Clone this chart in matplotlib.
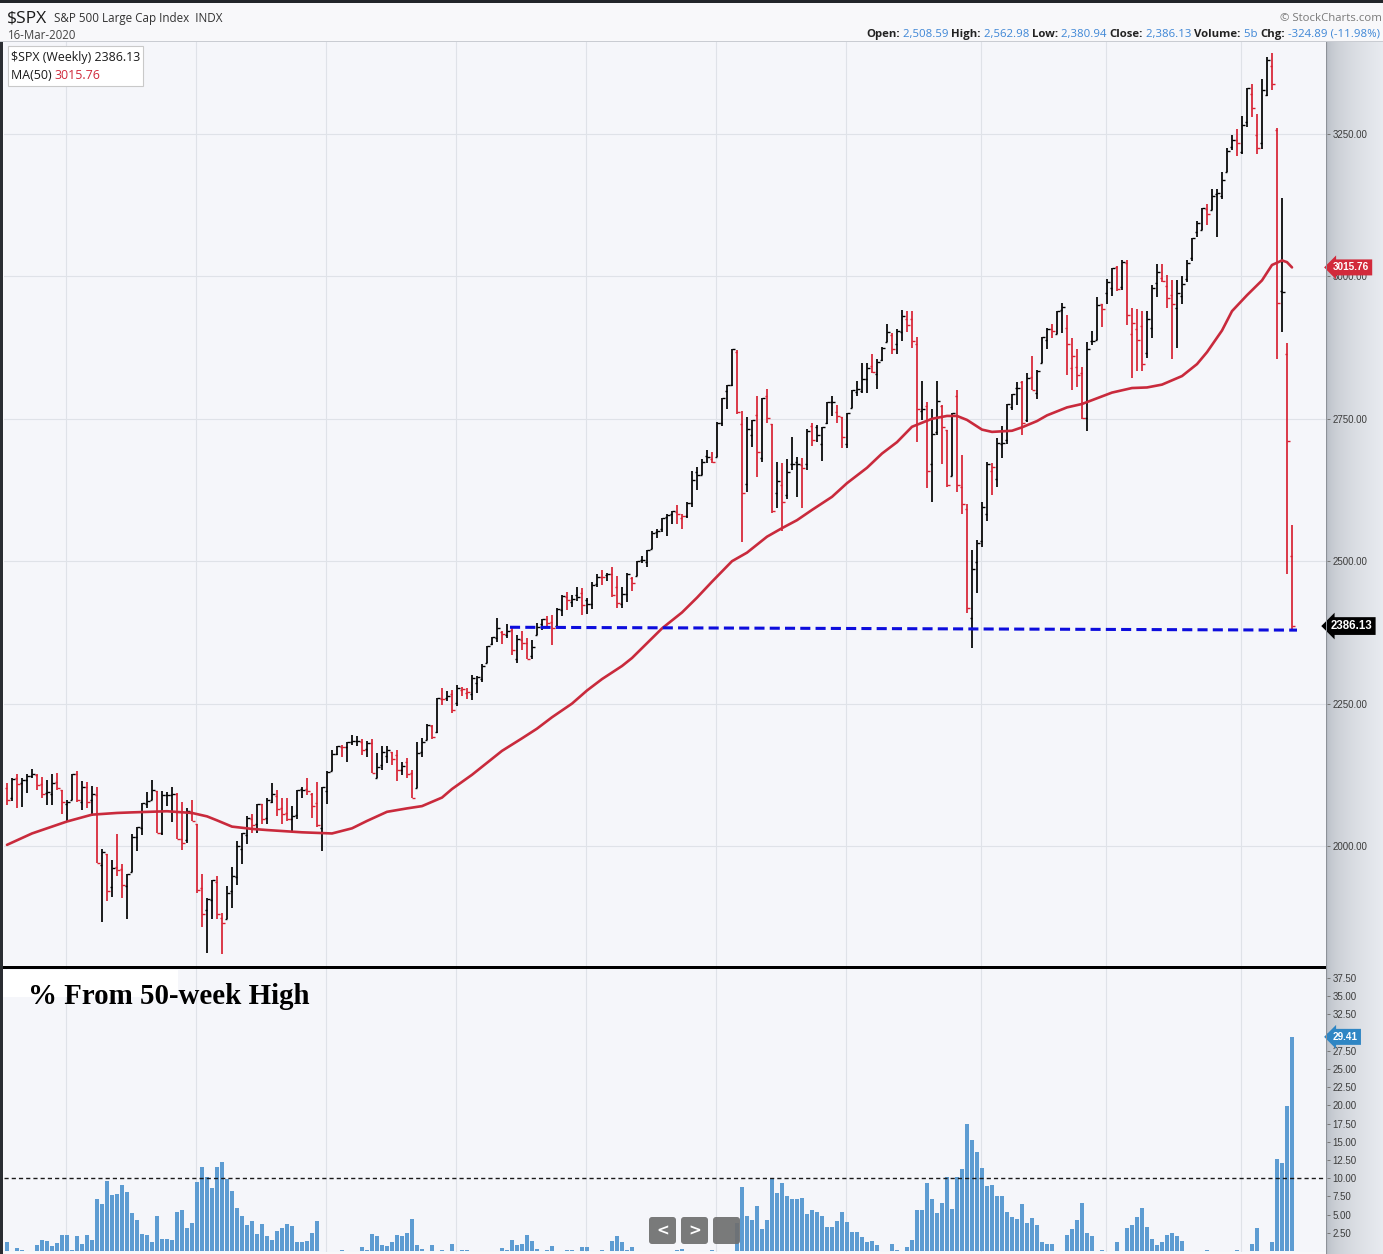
import numpy as np
import matplotlib
matplotlib.use('Agg')
import matplotlib.pyplot as plt
import matplotlib.transforms as mtransforms
from matplotlib.patches import Rectangle, FancyBboxPatch

# weekly $SPX bars, week of 13-Apr-2015 .. week of 16-Mar-2020 (258 weeks)
opens = [2102, 2084, 2120, 2110, 2115, 2122, 2125, 2108, 2093, 2092,
         2112, 2098, 2073, 2080, 2127, 2078, 2104, 2080, 2090, 1966,
         1986, 1928, 1963, 1960, 1929, 1954, 2015, 2031, 2073, 2080,
         2097, 2023, 2089, 2090, 2091, 2013, 2010, 2058, 2038, 1926,
         1888, 1906, 1936, 1873, 1872, 1921, 1946, 1995, 2019, 2048,
         2038, 2073, 2050, 2078, 2088, 2067, 2058, 2047, 2054, 2100,
         2100, 2092, 2075, 2031, 2096, 2131, 2162, 2173, 2173, 2183,
         2184, 2183, 2170, 2181, 2120, 2143, 2158, 2165, 2160, 2133,
         2148, 2129, 2101, 2165, 2186, 2210, 2200, 2258, 2260, 2267,
         2251, 2273, 2269, 2267, 2286, 2294, 2321, 2354, 2365, 2375,
         2371, 2379, 2329, 2362, 2357, 2333, 2370, 2389, 2399, 2393,
         2387, 2414, 2437, 2428, 2441, 2444, 2431, 2424, 2460, 2473,
         2476, 2477, 2454, 2425, 2442, 2470, 2474, 2502, 2499, 2521,
         2551, 2557, 2578, 2583, 2587, 2576, 2580, 2603, 2657, 2652,
         2685, 2680, 2683, 2743, 2799, 2810, 2867, 2741, 2636, 2722,
         2757, 2681, 2790, 2741, 2619, 2633, 2617, 2671, 2675, 2668,
         2670, 2738, 2735, 2705, 2742, 2780, 2762, 2754, 2705, 2769,
         2797, 2799, 2819, 2842, 2828, 2853, 2884, 2897, 2881, 2903,
         2925, 2926, 2882, 2763, 2773, 2670, 2726, 2773, 2731, 2650,
         2790, 2630, 2591, 2401, 2498, 2535, 2582, 2658, 2644, 2706,
         2712, 2770, 2804, 2814, 2747, 2823, 2796, 2848, 2889, 2908,
         2899, 2941, 2909, 2840, 2841, 2830, 2751, 2886, 2889, 2951,
         2971, 2980, 3017, 2981, 3024, 2898, 2907, 2913, 2866, 2909,
         2989, 2997, 2984, 2967, 2945, 2966, 2996, 3032, 3078, 3081,
         3118, 3117, 3144, 3141, 3183, 3227, 3240, 3218, 3271, 3321,
         3248, 3235, 3318, 3370, 3257, 2975, 2863, 2508.59]
highs = [2111, 2120, 2126, 2120, 2126, 2135, 2126, 2121, 2115, 2127,
         2129, 2099, 2081, 2127, 2132, 2114, 2112, 2105, 2103, 1994,
         1986, 1976, 2021, 1968, 1951, 2021, 2034, 2076, 2094, 2116,
         2097, 2097, 2095, 2104, 2093, 2077, 2067, 2081, 2038, 1950,
         1908, 1940, 1947, 1882, 1930, 1963, 2009, 2022, 2052, 2056,
         2073, 2073, 2084, 2111, 2099, 2084, 2084, 2071, 2099, 2104,
         2120, 2093, 2113, 2103, 2131, 2169, 2175, 2177, 2183, 2194,
         2193, 2187, 2184, 2187, 2163, 2175, 2175, 2165, 2169, 2148,
         2155, 2133, 2182, 2189, 2214, 2213, 2260, 2278, 2272, 2274,
         2282, 2279, 2277, 2301, 2299, 2319, 2351, 2367, 2401, 2378,
         2390, 2382, 2370, 2378, 2366, 2362, 2392, 2399, 2403, 2406,
         2418, 2440, 2446, 2441, 2454, 2453, 2435, 2463, 2478, 2484,
         2480, 2490, 2474, 2454, 2480, 2472, 2500, 2509, 2519, 2553,
         2557, 2575, 2582, 2588, 2598, 2583, 2604, 2658, 2665, 2679,
         2695, 2692, 2744, 2787, 2810, 2873, 2870, 2763, 2754, 2747,
         2790, 2786, 2802, 2741, 2675, 2672, 2680, 2718, 2683, 2682,
         2732, 2742, 2739, 2736, 2779, 2790, 2774, 2754, 2760, 2801,
         2816, 2848, 2848, 2863, 2855, 2876, 2916, 2900, 2908, 2941,
         2940, 2940, 2894, 2817, 2779, 2767, 2816, 2775, 2731, 2760,
         2800, 2686, 2601, 2520, 2538, 2604, 2675, 2672, 2717, 2738,
         2776, 2793, 2814, 2816, 2831, 2861, 2836, 2893, 2910, 2917,
         2940, 2954, 2932, 2892, 2872, 2841, 2884, 2905, 2964, 2951,
         2996, 3014, 3018, 3028, 3028, 2945, 2943, 2939, 2940, 2985,
         3021, 3022, 3002, 2993, 2993, 3000, 3028, 3067, 3098, 3120,
         3127, 3154, 3154, 3183, 3226, 3248, 3259, 3282, 3330, 3338,
         3285, 3347, 3385, 3393, 3260, 3137, 2883, 2562.98]
lows = [2072, 2079, 2067, 2068, 2093, 2119, 2099, 2085, 2072, 2072,
        2098, 2056, 2044, 2080, 2077, 2063, 2067, 2052, 1970, 1867,
        1903, 1910, 1947, 1908, 1872, 1954, 1991, 2019, 2066, 2080,
        2022, 2019, 2070, 2042, 2012, 1993, 2005, 2043, 1918, 1857,
        1812, 1872, 1872, 1810, 1872, 1891, 1931, 1969, 2004, 2023,
        2023, 2039, 2039, 2075, 2052, 2039, 2044, 2025, 2048, 2085,
        2089, 2050, 2033, 1992, 2074, 2131, 2159, 2156, 2148, 2177,
        2175, 2160, 2157, 2128, 2119, 2133, 2145, 2143, 2114, 2124,
        2119, 2084, 2101, 2156, 2186, 2187, 2198, 2248, 2254, 2234,
        2245, 2263, 2258, 2257, 2268, 2288, 2321, 2352, 2358, 2354,
        2365, 2336, 2322, 2344, 2328, 2328, 2370, 2380, 2387, 2353,
        2382, 2404, 2415, 2419, 2430, 2405, 2407, 2416, 2455, 2459,
        2466, 2437, 2417, 2417, 2428, 2447, 2474, 2496, 2489, 2521,
        2541, 2551, 2544, 2566, 2566, 2557, 2575, 2595, 2625, 2651,
        2673, 2673, 2683, 2737, 2768, 2808, 2758, 2533, 2622, 2700,
        2648, 2675, 2742, 2585, 2593, 2553, 2610, 2660, 2612, 2594,
        2660, 2702, 2709, 2676, 2740, 2755, 2742, 2699, 2699, 2769,
        2790, 2796, 2795, 2830, 2803, 2852, 2884, 2864, 2864, 2886,
        2903, 2874, 2710, 2747, 2628, 2604, 2722, 2670, 2631, 2649,
        2621, 2583, 2409, 2347, 2444, 2525, 2570, 2617, 2631, 2681,
        2705, 2765, 2775, 2722, 2745, 2800, 2785, 2848, 2873, 2891,
        2898, 2900, 2826, 2800, 2805, 2750, 2728, 2879, 2888, 2912,
        2952, 2966, 2975, 2976, 2914, 2822, 2834, 2834, 2856, 2891,
        2964, 2990, 2945, 2855, 2874, 2952, 2991, 3027, 3069, 3081,
        3091, 3117, 3070, 3136, 3183, 3222, 3212, 3215, 3263, 3280,
        3214, 3223, 3316, 3328, 2855, 2902, 2478, 2380.94]
closes = [2081, 2117, 2108, 2116, 2123, 2126, 2107, 2092, 2094, 2110,
          2101, 2077, 2077, 2127, 2080, 2104, 2078, 2092, 1971, 1989,
          1921, 1961, 1958, 1931, 1951, 2015, 2033, 2075, 2079, 2099,
          2023, 2089, 2090, 2092, 2012, 2006, 2061, 2044, 1922, 1880,
          1907, 1940, 1880, 1865, 1918, 1948, 2000, 2022, 2050, 2036,
          2073, 2048, 2081, 2092, 2065, 2057, 2047, 2052, 2099, 2099,
          2096, 2071, 2037, 2103, 2130, 2162, 2175, 2173, 2183, 2184,
          2184, 2169, 2180, 2128, 2139, 2165, 2168, 2153, 2133, 2141,
          2126, 2085, 2164, 2182, 2213, 2192, 2260, 2258, 2264, 2239,
          2277, 2275, 2271, 2295, 2297, 2316, 2351, 2367, 2383, 2373,
          2378, 2344, 2363, 2356, 2329, 2349, 2384, 2399, 2391, 2382,
          2416, 2439, 2432, 2433, 2438, 2423, 2425, 2459, 2473, 2472,
          2477, 2441, 2426, 2443, 2477, 2461, 2500, 2502, 2519, 2549,
          2553, 2575, 2581, 2588, 2582, 2579, 2602, 2642, 2652, 2675,
          2683, 2674, 2743, 2786, 2810, 2873, 2762, 2620, 2732, 2747,
          2691, 2786, 2752, 2588, 2641, 2604, 2656, 2670, 2670, 2663,
          2728, 2713, 2721, 2735, 2779, 2780, 2755, 2718, 2760, 2801,
          2802, 2819, 2840, 2833, 2850, 2875, 2902, 2872, 2905, 2930,
          2914, 2886, 2767, 2768, 2658, 2723, 2781, 2736, 2633, 2760,
          2633, 2600, 2417, 2486, 2532, 2596, 2671, 2665, 2707, 2708,
          2776, 2793, 2804, 2743, 2822, 2800, 2834, 2893, 2907, 2905,
          2940, 2946, 2881, 2860, 2826, 2752, 2873, 2887, 2950, 2942,
          2990, 3014, 2977, 3026, 2932, 2919, 2889, 2847, 2926, 2979,
          3007, 2992, 2962, 2952, 2970, 2986, 3023, 3067, 3093, 3120,
          3110, 3141, 3146, 3169, 3221, 3240, 3235, 3265, 3330, 3295,
          3226, 3328, 3380, 3338, 2954, 2972, 2711, 2386.13]

# 50-week moving average (week number, value)
ma_weeks = [0, 5, 12, 17, 22, 25, 32, 37, 40, 42, 45, 49, 52, 59, 65, 69, 72, 76, 80,
            83, 87, 89, 93, 96, 99, 103, 106, 109, 113, 116, 119, 123, 125, 128, 131,
            135, 138, 141, 145, 148, 152, 155, 158, 161, 165, 168, 172, 175, 178, 181,
            185, 188, 190, 192, 195, 197, 201, 203, 206, 208, 212, 215, 218, 221, 225,
            228, 231, 235, 238, 240, 243, 245, 248, 251, 253, 255, 256, 257]
ma_values = [2002, 2022, 2043, 2055, 2058, 2059, 2061, 2058, 2052, 2045, 2034, 2030,
             2028, 2024, 2022, 2031, 2044, 2060, 2066, 2070, 2085, 2100, 2125, 2146,
             2167, 2189, 2206, 2226, 2250, 2273, 2293, 2316, 2330, 2356, 2382, 2410,
             2436, 2464, 2500, 2515, 2543, 2558, 2572, 2590, 2613, 2637, 2664, 2689,
             2709, 2736, 2750, 2755, 2755, 2748, 2731, 2727, 2729, 2735, 2746, 2756,
             2770, 2776, 2786, 2796, 2804, 2805, 2810, 2825, 2846, 2867, 2905, 2939,
             2967, 2993, 3020, 3028, 3025, 3015.76]

# % from 50-week high, one value per week
pct_off_high = [1.3, 0.0, 0.4, 0.1, 0.0, 0.0, 0.8, 1.5, 1.4, 0.7,
                1.1, 2.2, 2.2, 0.1, 2.1, 1.0, 2.2, 1.5, 7.2, 6.4,
                9.6, 7.7, 7.8, 9.0, 8.1, 5.2, 4.3, 2.3, 2.2, 1.2,
                4.8, 1.7, 1.7, 1.5, 5.3, 5.6, 3.1, 3.8, 9.5, 11.5,
                10.2, 8.6, 11.5, 12.2, 9.9, 8.3, 5.9, 4.8, 3.6, 4.1,
                2.4, 3.7, 2.0, 1.5, 2.8, 3.1, 3.7, 3.4, 1.2, 1.2,
                1.4, 2.5, 4.1, 0.0, 0.0, 0.0, 0.0, 0.1, 0.0, 0.0,
                0.0, 0.6, 0.2, 2.4, 2.0, 0.8, 0.7, 1.3, 2.2, 2.0,
                2.5, 4.4, 0.8, 0.3, 0.0, 0.8, 0.0, 0.1, 0.0, 1.0,
                0.0, 0.1, 0.2, 0.0, 0.0, 0.0, 0.0, 0.0, 0.0, 0.4,
                0.2, 1.5, 0.8, 1.0, 2.2, 1.4, 0.3, 0.0, 0.2, 0.7,
                0.0, 0.0, 0.2, 0.2, 0.0, 0.5, 0.5, 0.0, 0.0, 0.1,
                0.0, 1.4, 2.1, 1.3, 0.2, 0.5, 0.0, 0.0, 0.0, 0.0,
                0.0, 0.0, 0.0, 0.0, 0.2, 0.3, 0.0, 0.0, 0.0, 0.0,
                0.0, 0.2, 0.0, 0.0, 0.0, 0.0, 3.8, 8.8, 4.8, 4.3,
                6.2, 3.0, 4.2, 9.9, 8.0, 9.3, 7.5, 7.1, 7.1, 7.3,
                5.1, 5.6, 5.3, 4.8, 3.3, 3.3, 4.1, 5.4, 4.0, 2.6,
                2.6, 1.9, 1.2, 1.4, 0.8, 0.0, 0.0, 1.0, 0.2, 0.0,
                0.5, 1.5, 5.6, 5.6, 9.3, 7.1, 5.2, 6.6, 10.1, 5.8,
                10.1, 11.2, 17.5, 15.2, 13.6, 11.4, 8.9, 9.0, 7.6, 7.6,
                5.3, 4.7, 4.4, 6.4, 3.8, 4.5, 3.6, 1.3, 1.0, 1.0,
                0.0, 0.0, 2.2, 3.0, 4.2, 6.6, 2.5, 2.1, 0.0, 0.2,
                0.0, 0.0, 1.2, 0.0, 3.2, 3.6, 4.6, 5.9, 3.3, 1.6,
                0.8, 1.2, 2.2, 2.5, 2.0, 1.4, 0.0, 0.0, 0.0, 0.0,
                0.2, 0.0, 0.0, 0.0, 0.0, 0.0, 0.2, 0.0, 0.0, 1.0,
                3.2, 0.0, 0.0, 1.3, 12.6, 12.1, 19.9, 29.41]

# support line drawn on the chart (week, price)
support_weeks = [100.6, 258]
support_prices = [2384, 2379]

half_year_weeks = [12, 38, 64, 90, 116, 142, 168, 195, 220, 247]  # Jul / Jan
price_ticks = [2000, 2250, 2500, 2750, 3000, 3250]
pct_ticks = [2.5, 5, 7.5, 10, 12.5, 15, 17.5, 20, 22.5, 25, 27.5, 30, 32.5, 35, 37.5]

W, H = 1383, 1254
fig = plt.figure(figsize=(W / 100, H / 100), dpi=100)
fig.patch.set_facecolor('#f8f8fa')


def fx(px):
    return px / W


def fy(py):
    return 1 - py / H


RED = '#d82132'
BG = '#f5f6fa'
GRID = '#dfe2e8'
weeks = np.arange(len(closes))

# right axis strip with a soft gradient
axg = fig.add_axes([fx(1327), 0, fx(1383) - fx(1327), fy(42)], zorder=-1)
grad = np.linspace(0, 1, 56) ** 0.5
c0, c1 = np.array([0.72, 0.74, 0.77]), np.array([0.91, 0.92, 0.94])
axg.imshow((c0 + (c1 - c0) * grad[:, None])[None, :, :], aspect='auto', extent=(0, 1, 0, 1))
axg.axis('off')

# ---- price panel ----
ax = fig.add_axes([fx(4), fy(966), fx(1327) - fx(4), fy(42) - fy(966)])
ax.set_facecolor(BG)
ax.set_xlim(-0.6, 264)
ax.set_ylim(1789.3, 3411.5)

cols = [RED if closes[0] < opens[0] else 'black']
for i in range(1, len(closes)):
    cols.append(RED if closes[i] < closes[i - 1] else 'black')

ax.vlines(weeks, lows, highs, colors=cols, lw=1.25, capstyle='butt', zorder=3)
ax.hlines(opens, weeks - 0.5, weeks, colors=cols, lw=1.0, zorder=3)
ax.hlines(closes, weeks, weeks + 0.5, colors=cols, lw=1.0, zorder=3)
ax.plot(ma_weeks, ma_values, color='#c92a3c', lw=1.9, zorder=4, solid_capstyle='round',
        solid_joinstyle='round')
ax.plot(support_weeks, support_prices, color='#0d0ddd', lw=2.2, dashes=(3.3, 1.7), zorder=5)

ax.yaxis.tick_right()
ax.set_yticks(price_ticks)
ax.set_yticklabels([f'{v:.2f}' for v in price_ticks], fontsize=7, color='#3c3c3c',
                   family='Liberation Sans')
ax.tick_params(axis='y', length=2.5, width=0.7, color='#777777', pad=1.5)
ax.set_xticks(np.array(half_year_weeks) - 0.3)
ax.tick_params(axis='x', length=0, labelbottom=False)
ax.grid(True, color=GRID, lw=0.8, zorder=0)
ax.set_axisbelow(True)
for s in ax.spines.values():
    s.set_visible(False)

blend = mtransforms.blended_transform_factory(ax.transAxes, ax.transData)
ax.text(1.0045, ma_values[-1], f'{ma_values[-1]:.2f}', transform=blend, ha='left', va='center',
        fontsize=7.2, color='white', fontweight='bold', family='Liberation Sans', clip_on=False,
        zorder=10, bbox=dict(boxstyle='larrow,pad=0.3', fc='#d22a3b', ec='none'))
ax.text(1.003, closes[-1], f'{closes[-1]:.2f}', transform=blend, ha='left', va='center',
        fontsize=8.3, color='white', fontweight='bold', family='Liberation Sans', clip_on=False,
        zorder=10, bbox=dict(boxstyle='larrow,pad=0.25', fc='black', ec='none'))

# ---- % from 50-week high panel ----
ax2 = fig.add_axes([fx(4), fy(1252), fx(1327) - fx(4), fy(968) - fy(1252)])
ax2.set_facecolor(BG)
ax2.set_xlim(-0.6, 264)
ax2.set_ylim(-0.14, 38.87)
ax2.bar(weeks, pct_off_high, width=0.8, color='#5d9cd2', zorder=3)
ax2.axhline(10, color='#1a1a1a', lw=1.0, dashes=(3, 2.2), zorder=4)
ax2.yaxis.tick_right()
ax2.set_yticks(pct_ticks)
# the 30.00 label sits under the value tag, as on the original
ax2.set_yticklabels(['' if v == 30 else f'{v:.2f}' for v in pct_ticks], fontsize=7,
                    color='#3c3c3c', family='Liberation Sans')
ax2.tick_params(axis='y', length=2.5, width=0.7, color='#777777', pad=1.5)
ax2.set_xticks(np.array(half_year_weeks) - 0.3)
ax2.tick_params(axis='x', length=0, labelbottom=False)
ax2.grid(True, axis='x', color=GRID, lw=0.8, zorder=0)
for s in ax2.spines.values():
    s.set_visible(False)
blend2 = mtransforms.blended_transform_factory(ax2.transAxes, ax2.transData)
ax2.text(1.0045, pct_off_high[-1], f'{pct_off_high[-1]:.2f}', transform=blend2, ha='left',
         va='center', fontsize=7.2, color='white', fontweight='bold', family='Liberation Sans',
         clip_on=False, zorder=10, bbox=dict(boxstyle='larrow,pad=0.3', fc='#2f86c4', ec='none'))

# white label box + title of the lower panel
fig.add_artist(Rectangle((fx(3), fy(997)), fx(178) - fx(3), fy(970) - fy(997),
                         transform=fig.transFigure, fc='white', ec='none', zorder=5))
fig.text(fx(28), fy(1004), '% From 50-week High', family='Liberation Serif', fontweight='bold',
         fontsize=20.8, color='black', va='baseline', zorder=6)

# frame lines
fig.add_artist(Rectangle((0, fy(968.5)), fx(1327), 2.6 / H, transform=fig.transFigure,
                         fc='black', ec='none', zorder=6))
fig.add_artist(Rectangle((fx(1326), 0), 1.3 / W, fy(42), transform=fig.transFigure,
                         fc='#8d9198', ec='none', zorder=6))
fig.add_artist(Rectangle((0, fy(42)), 1, 1.2 / H, transform=fig.transFigure,
                         fc='#c9ccd2', ec='none', zorder=6))
fig.add_artist(Rectangle((0, fy(3)), 1, 3 / H, transform=fig.transFigure,
                         fc='#22252a', ec='none', zorder=6))
fig.add_artist(Rectangle((0, 0), 3 / W, fy(42), transform=fig.transFigure,
                         fc='#2a2d32', ec='none', zorder=6))

# nav buttons
ident = mtransforms.IdentityTransform()
for x0, sym in [(649, '<'), (681, '>'), (713, '')]:
    fig.add_artist(FancyBboxPatch((x0, H - 1244), 27, 27, boxstyle='round,pad=0,rounding_size=3',
                                  transform=ident, fc='#6f6f6f', ec='none', alpha=0.92, zorder=7))
    if sym:
        fig.text(fx(x0 + 13.5), fy(1230.5), sym, ha='center', va='center', color='white',
                 fontsize=11, fontweight='bold', family='DejaVu Sans', zorder=8)

# ---- header ----
HF = 'Open Sans'
fig.text(fx(7), fy(23), '$SPX', fontsize=12.6, color='#1b1b1b', family=HF, va='baseline')
fig.text(fx(54), fy(22), 'S&P 500 Large Cap Index  INDX', fontsize=8.4, color='#333333',
         family=HF, va='baseline')
fig.text(fx(8), fy(39), '16-Mar-2020', fontsize=8.3, color='#444444', family=HF, va='baseline')
fig.text(fx(1382), fy(21), '\u00a9 StockCharts.com', fontsize=8.2, color='#7a7a7a', family=HF,
         ha='right', va='baseline')

renderer = fig.canvas.get_renderer()


def chain(parts, x_right, y, size):
    objs = []
    for s, c, w in parts:
        objs.append(fig.text(0, fy(y), s, fontsize=size, color=c, fontweight=w, family=HF,
                             va='baseline', zorder=8))
    widths = [t.get_window_extent(renderer).width for t in objs]
    x = x_right - sum(widths)
    for t, wd in zip(objs, widths):
        t.set_x(fx(x))
        x += wd


LAB, VAL = '#222222', '#3d86d6'
chain([('Open:', LAB, 'bold'), (' 2,508.59 ', VAL, 'normal'),
       ('High:', LAB, 'bold'), (' 2,562.98 ', VAL, 'normal'),
       ('Low:', LAB, 'bold'), (' 2,380.94 ', VAL, 'normal'),
       ('Close:', LAB, 'bold'), (' 2,386.13 ', VAL, 'normal'),
       ('Volume:', LAB, 'bold'), (' 5b ', VAL, 'normal'),
       ('Chg:', LAB, 'bold'), (' -324.89 (-11.98%)', VAL, 'normal')], 1380, 37, 8.2)

# legend box
fig.add_artist(Rectangle((fx(8), fy(86)), fx(143) - fx(8), fy(46) - fy(86), transform=fig.transFigure,
                         fc='white', ec='#c9c9c9', lw=0.8, zorder=7))
fig.text(fx(11), fy(61), f'$SPX (Weekly) {closes[-1]:.2f}', fontsize=8.9, color='#1a1a1a',
         family=HF, va='baseline', zorder=8)
t1 = fig.text(fx(11), fy(79), 'MA(50) ', fontsize=8.9, color='#1a1a1a', family=HF,
              va='baseline', zorder=8)
w1 = t1.get_window_extent(renderer).width
fig.text(fx(11 + w1), fy(79), f'{ma_values[-1]:.2f}', fontsize=8.9, color='#d0283a', family=HF,
         va='baseline', zorder=8)

fig.savefig('out.png', dpi=100, facecolor=fig.get_facecolor())
